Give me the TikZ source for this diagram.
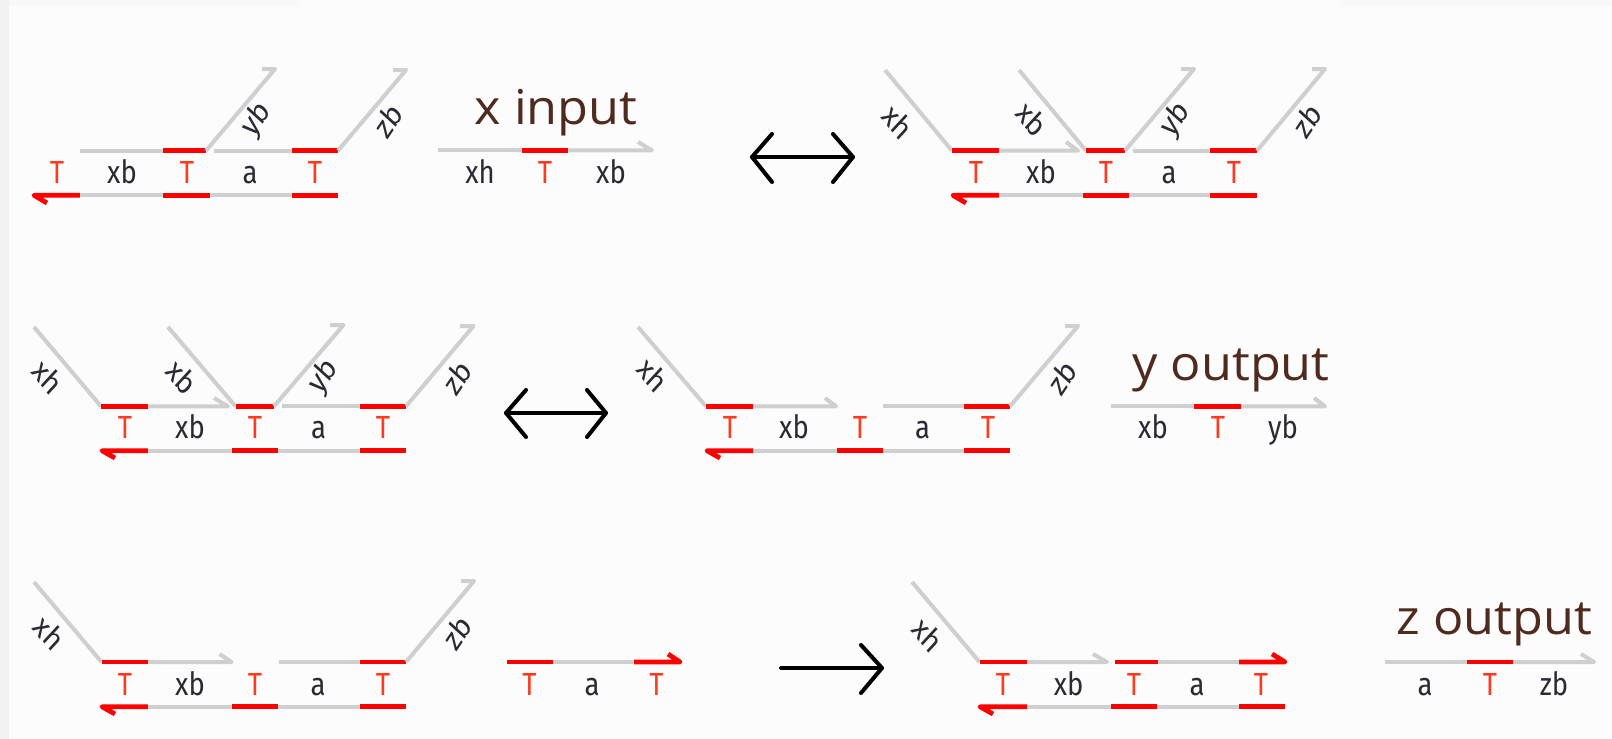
\documentclass[tikz,border=0pt]{standalone}
\usepackage{fontspec}
\setmainfont{Open Sans}
\newfontfamily\labfont{Fira Sans}
\definecolor{gstrand}{HTML}{CFCFCF}
\definecolor{rstrand}{HTML}{FF0000}
\definecolor{labt}{HTML}{FF3A1E}
\definecolor{labk}{HTML}{2A2A33}
\definecolor{title}{HTML}{4F2A1E}
\tikzset{
  x=1pt,y=-1pt,
  grey/.style={draw=gstrand,line width=4pt,line join=round},
  red/.style={draw=rstrand,line width=4.8pt,line join=round},
  lab/.style={font=\labfont\fontsize{32}{32}\selectfont,text=labk,inner sep=0pt,xscale=.86,transform shape,anchor=base},
  tlab/.style={lab,text=labt},
  ttl/.style={font=\fontsize{48}{48}\selectfont,text=title,inner sep=0pt,anchor=base,xscale=1.05,transform shape},
  bigarrow/.style={draw=black,line width=4pt,line cap=round,line join=round}
}
\newcommand{\rot}[4]{\node[lab,anchor=center,rotate=#4] at (#1,#2) {#3};}
\begin{document}
\begin{tikzpicture}
\useasboundingbox (0,0) rectangle (1612,739);
\fill[white!99!black] (0,0) rectangle (1612,739);
\fill[white!97.5!black] (0,0) rectangle (300,6);
\fill[white!97.5!black] (1340,0) rectangle (1612,6);
\fill[white!95!black] (0,0) rectangle (9,739);

%% ROW 1 left
\draw[grey] (80,150.7) -- (163,150.7);
\draw[red] (163,150.7) -- (206,150.7);
\draw[grey] (206,150.7) -- (275,69) -- (262,69);
\draw[grey] (214,150.7) -- (292,150.7);
\draw[red] (292,150.7) -- (338,150.7);
\draw[grey] (338,150.7) -- (406,70) -- (393,70);
\draw[red] (47,203) -- (34,195.3) -- (80,195.3);
\draw[grey] (80,195.3) -- (163,195.3);
\draw[red] (163,195.3) -- (210,195.3);
\draw[grey] (210,195.3) -- (292,195.3);
\draw[red] (292,195.3) -- (338,195.3);
\node[tlab] at (57,183) {T};
\node[lab] at (122,183) {xb};
\node[tlab] at (187,183) {T};
\node[lab] at (250,183) {a};
\node[tlab] at (315,183) {T};
\rot{257}{120}{yb}{52}
\rot{388}{120}{zb}{52}

%% x input
\node[ttl] (xin) at (556,124) {x input};
\draw[grey] (438,150.3) -- (522,150.3);
\draw[red] (522,150.3) -- (568,150.3);
\draw[grey] (568,150.3) -- (652,150.3) -- (638,142);
\node[lab] at (480,183) {xh};
\node[tlab] at (545,183) {T};
\node[lab] at (611,183) {xb};

%% arrow 1
\coordinate (a1l) at (752,157);
\coordinate (a1r) at (853,157);
\draw[bigarrow] (a1l) -- (a1r);
\draw[bigarrow] (772,134) -- (a1l) -- (772,182);
\draw[bigarrow] (833,134) -- (a1r) -- (833,182);

%% ROW 1 right
\draw[grey] (885,70) -- (952,150.7);
\draw[red] (952,150.7) -- (999,150.7);
\draw[grey] (999,150.7) -- (1078,150.7) -- (1066,142);
\draw[grey] (1019,70) -- (1086,150.7);
\draw[red] (1086,150.7) -- (1125,150.7);
\draw[grey] (1125,150.7) -- (1194,69) -- (1181,69);
\draw[grey] (1133,150.7) -- (1210,150.7);
\draw[red] (1210,150.7) -- (1257,150.7);
\draw[grey] (1257,150.7) -- (1325,69) -- (1312,69);
\draw[red] (966,203) -- (953,195.3) -- (999,195.3);
\draw[grey] (999,195.3) -- (1083,195.3);
\draw[red] (1083,195.3) -- (1129,195.3);
\draw[grey] (1129,195.3) -- (1210,195.3);
\draw[red] (1210,195.3) -- (1257,195.3);
\node[tlab] at (976,183) {T};
\node[lab] at (1041,183) {xb};
\node[tlab] at (1106,183) {T};
\node[lab] at (1169,183) {a};
\node[tlab] at (1234,183) {T};
\rot{898}{122}{xh}{-47}
\rot{1032}{119}{xb}{-47}
\rot{1176}{120}{yb}{52}
\rot{1307}{120}{zb}{52}

%% ROW 2 left
\draw[grey] (34,327) -- (101,406.3);
\draw[red] (101,406.3) -- (148,406.3);
\draw[grey] (148,406.3) -- (228,406.3) -- (214,398);
\draw[grey] (168,327) -- (235.5,406.3);
\draw[red] (235.5,406.3) -- (274,406.3);
\draw[grey] (274,406.3) -- (343.5,325) -- (330,325);
\draw[grey] (282,406.3) -- (360,406.3);
\draw[red] (360,406.3) -- (406,406.3);
\draw[grey] (406,406.3) -- (473.5,326) -- (460,326);
\draw[red] (115,458) -- (102,450.7) -- (148,450.7);
\draw[grey] (148,450.7) -- (232,450.7);
\draw[red] (232,450.7) -- (278,450.7);
\draw[grey] (278,450.7) -- (360,450.7);
\draw[red] (360,450.7) -- (406,450.7);
\node[tlab] at (125,438) {T};
\node[lab] at (190,438) {xb};
\node[tlab] at (255,438) {T};
\node[lab] at (318.5,438) {a};
\node[tlab] at (383,438) {T};
\rot{48}{377}{xh}{-47}
\rot{182}{377}{xb}{-47}
\rot{324}{377}{yb}{52}
\rot{457}{377}{zb}{52}

%% arrow 2
\coordinate (a2l) at (506,413);
\coordinate (a2r) at (606,413);
\draw[bigarrow] (a2l) -- (a2r);
\draw[bigarrow] (526,390) -- (a2l) -- (526,437);
\draw[bigarrow] (587,390) -- (a2r) -- (587,437);

%% ROW 2 middle
\draw[grey] (638,327) -- (706,406.3);
\draw[red] (706,406.3) -- (753,406.3);
\draw[grey] (753,406.3) -- (836,406.3) -- (825,398);
\draw[grey] (882.5,406.3) -- (964,406.3);
\draw[red] (964,406.3) -- (1010,406.3);
\draw[grey] (1010,406.3) -- (1078,326) -- (1065,326);
\draw[red] (720,458) -- (707,450.7) -- (753,450.7);
\draw[grey] (753,450.7) -- (836.6,450.7);
\draw[red] (836.6,450.7) -- (882.5,450.7);
\draw[grey] (882.5,450.7) -- (964,450.7);
\draw[red] (964,450.7) -- (1010,450.7);
\node[tlab] at (730,438) {T};
\node[lab] at (794,438) {xb};
\node[tlab] at (860,438) {T};
\node[lab] at (922.5,438) {a};
\node[tlab] at (988,438) {T};
\rot{653}{375}{xh}{-47}
\rot{1062}{377}{zb}{52}

%% y output
\node[ttl] (yout) at (1231,380) {y output};
\draw[grey] (1111,406.3) -- (1194,406.3);
\draw[red] (1194,406.3) -- (1241,406.3);
\draw[grey] (1241,406.3) -- (1325,406.3) -- (1314,398);
\node[lab] at (1153,438) {xb};
\node[tlab] at (1218,438) {T};
\node[lab] at (1283,438) {yb};

%% ROW 3 left
\draw[grey] (34,582) -- (101.5,662);
\draw[red] (101.5,662) -- (148,662);
\draw[grey] (148,662) -- (231.6,662) -- (219.5,654);
\draw[grey] (278.5,662) -- (360,662);
\draw[red] (360,662) -- (406,662);
\draw[grey] (406,662) -- (474,581) -- (461,581);
\draw[red] (115,714) -- (102,706.7) -- (148,706.7);
\draw[grey] (148,706.7) -- (232,706.7);
\draw[red] (232,706.7) -- (278,706.7);
\draw[grey] (278,706.7) -- (360,706.7);
\draw[red] (360,706.7) -- (406,706.7);
\node[tlab] at (125,695) {T};
\node[lab] at (190,695) {xb};
\node[tlab] at (255,695) {T};
\node[lab] at (318,695) {a};
\node[tlab] at (383,695) {T};
\rot{49.5}{633}{xh}{-47}
\rot{457}{632}{zb}{52}

%% ROW 3 T a T
\draw[red] (506.5,662) -- (552.5,662);
\draw[grey] (552.5,662) -- (634,662);
\draw[red] (634,662) -- (680,662) -- (668,654);
\node[tlab] at (529.5,695) {T};
\node[lab] at (592,695) {a};
\node[tlab] at (656.6,695) {T};

%% arrow 3
\coordinate (a3l) at (781,668);
\coordinate (a3r) at (882,668);
\draw[bigarrow] (a3l) -- (a3r);
\draw[bigarrow] (861,645) -- (a3r) -- (861,693);

%% ROW 3 right
\draw[grey] (912,582) -- (979.5,662);
\draw[red] (979.5,662) -- (1027,662);
\draw[grey] (1027,662) -- (1107,662) -- (1093,654);
\draw[red] (1115,662) -- (1158,662);
\draw[grey] (1158,662) -- (1239,662);
\draw[red] (1239,662) -- (1285,662) -- (1272,654);
\draw[red] (993,714) -- (980,706.7) -- (1027,706.7);
\draw[grey] (1027,706.7) -- (1111,706.7);
\draw[red] (1111,706.7) -- (1157,706.7);
\draw[grey] (1157,706.7) -- (1239,706.7);
\draw[red] (1239,706.7) -- (1285,706.7);
\node[tlab] at (1003,695) {T};
\node[lab] at (1068.6,695) {xb};
\node[tlab] at (1134,695) {T};
\node[lab] at (1197,695) {a};
\node[tlab] at (1261,695) {T};
\rot{928}{635}{xh}{-47}

%% z output
\node[ttl] (zout) at (1494.5,634) {z output};
\draw[grey] (1385,662) -- (1467,662);
\draw[red] (1467,662) -- (1513,662);
\draw[grey] (1513,662) -- (1594,662) -- (1581,654);
\node[lab] at (1425,695) {a};
\node[tlab] at (1490,695) {T};
\node[lab] at (1554,695) {zb};
\end{tikzpicture}
\end{document}
